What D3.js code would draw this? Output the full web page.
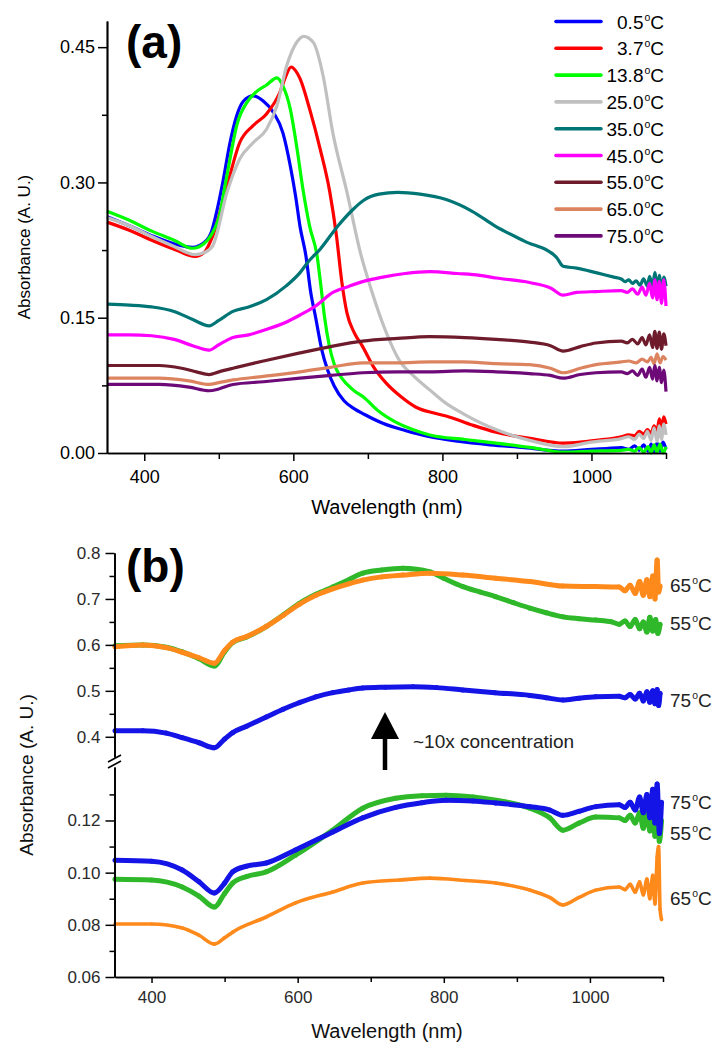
<!DOCTYPE html>
<html><head><meta charset="utf-8">
<script src="https://cdn.jsdelivr.net/npm/d3@7"></script>
<style>
body{margin:0;background:#fff}
svg{display:block}
text{font-family:"Liberation Sans",Arial,sans-serif}
</style>
</head><body>
<svg id="c" width="726" height="1050"></svg>
<script>
// ---------- Panel (a) data: [wavelength nm, absorbance] ----------
const a05 = [[350,0.262],[380,0.252],[410,0.241],[440,0.232],[465,0.228],[480,0.233],[490,0.245],[497,0.267],[506,0.303],[515,0.344],[524,0.374],[533,0.390],[546,0.396],[560,0.390],[573,0.378],[586,0.355],[596,0.318],[603,0.285],[609,0.251],[617,0.218],[623,0.180],[630,0.150],[638,0.115],[646,0.092],[655,0.074],[668,0.058],[682,0.049],[695,0.043],[720,0.033],[750,0.025],[783,0.018],[820,0.013],[864,0.009],[910,0.006],[962,0.002],[1000,0.004],[1020,0.005],[1040,0.006],[1050,0.004],[1058,0.008],[1064,0.003],[1070,0.009],[1076,0.002],[1080,0.010],[1084,0.001],[1088,0.011],[1092,0.002],[1096,0.012],[1100,0.004]];
const a37 = [[350,0.256],[380,0.247],[410,0.236],[440,0.226],[468,0.218],[480,0.222],[492,0.241],[511,0.296],[528,0.344],[546,0.363],[564,0.376],[582,0.400],[590,0.418],[597,0.428],[603,0.424],[609,0.415],[622,0.381],[636,0.337],[649,0.289],[658,0.240],[665,0.190],[672,0.155],[682,0.133],[693,0.118],[708,0.095],[724,0.078],[745,0.062],[764,0.051],[790,0.044],[809,0.040],[840,0.031],[872,0.023],[920,0.016],[962,0.011],[985,0.012],[1006,0.014],[1040,0.018],[1050,0.020],[1058,0.019],[1064,0.024],[1070,0.021],[1075,0.026],[1080,0.022],[1084,0.030],[1088,0.024],[1091,0.038],[1094,0.028],[1097,0.040],[1100,0.032]];
const a138 = [[350,0.268],[380,0.258],[410,0.246],[440,0.236],[465,0.227],[480,0.232],[490,0.242],[502,0.267],[508,0.295],[515,0.326],[524,0.363],[538,0.389],[551,0.401],[564,0.408],[578,0.416],[586,0.407],[596,0.381],[605,0.337],[613,0.292],[622,0.251],[632,0.218],[637,0.185],[642,0.150],[648,0.120],[655,0.098],[665,0.083],[680,0.070],[694,0.062],[715,0.046],[738,0.034],[760,0.026],[783,0.020],[830,0.015],[872,0.011],[920,0.006],[962,0.001],[1000,0.002],[1040,0.003],[1050,0.004],[1058,0.002],[1064,0.006],[1070,0.001],[1076,0.007],[1080,0.000],[1084,0.009],[1088,0.001],[1092,0.010],[1096,0.000],[1100,0.007]];
const a250 = [[350,0.261],[380,0.252],[410,0.240],[440,0.229],[468,0.220],[480,0.222],[492,0.230],[511,0.289],[528,0.326],[546,0.344],[564,0.359],[578,0.385],[591,0.429],[605,0.456],[614,0.462],[627,0.455],[640,0.418],[653,0.355],[672,0.289],[690,0.222],[705,0.180],[724,0.135],[742,0.103],[762,0.085],[783,0.070],[805,0.055],[827,0.044],[850,0.034],[872,0.026],[917,0.014],[962,0.007],[1000,0.012],[1040,0.016],[1050,0.018],[1058,0.015],[1064,0.021],[1070,0.016],[1075,0.024],[1080,0.014],[1084,0.028],[1088,0.013],[1091,0.030],[1094,0.015],[1097,0.032],[1100,0.020]];
const a350 = [[350,0.165],[380,0.164],[410,0.162],[440,0.157],[465,0.148],[487,0.141],[500,0.147],[519,0.157],[540,0.162],[564,0.170],[590,0.185],[609,0.200],[620,0.212],[636,0.226],[660,0.252],[680,0.270],[694,0.280],[715,0.287],[740,0.289],[770,0.287],[805,0.281],[840,0.268],[872,0.251],[910,0.235],[953,0.217],[962,0.207],[980,0.205],[1006,0.200],[1030,0.195],[1040,0.193],[1045,0.190],[1050,0.192],[1055,0.188],[1060,0.191],[1065,0.186],[1070,0.193],[1075,0.185],[1078,0.196],[1082,0.184],[1085,0.200],[1088,0.183],[1091,0.197],[1094,0.180],[1097,0.195],[1100,0.185]];
const a450 = [[350,0.131],[380,0.131],[410,0.130],[440,0.126],[465,0.119],[487,0.114],[500,0.120],[519,0.128],[540,0.131],[564,0.137],[590,0.145],[609,0.153],[630,0.163],[653,0.178],[675,0.185],[693,0.190],[720,0.195],[750,0.199],[783,0.201],[820,0.199],[850,0.197],[872,0.194],[917,0.189],[945,0.183],[962,0.175],[980,0.178],[1006,0.179],[1040,0.180],[1048,0.178],[1055,0.182],[1062,0.176],[1068,0.184],[1073,0.175],[1078,0.188],[1082,0.172],[1085,0.192],[1088,0.170],[1091,0.190],[1094,0.166],[1097,0.192],[1100,0.163]];
const a550 = [[350,0.097],[380,0.097],[420,0.097],[450,0.094],[470,0.090],[487,0.087],[500,0.090],[519,0.094],[560,0.102],[609,0.111],[650,0.118],[693,0.124],[740,0.127],[783,0.129],[830,0.128],[872,0.126],[917,0.123],[945,0.119],[962,0.113],[985,0.118],[1006,0.122],[1040,0.124],[1048,0.122],[1055,0.126],[1062,0.121],[1068,0.128],[1073,0.120],[1078,0.131],[1082,0.117],[1085,0.135],[1088,0.116],[1091,0.134],[1094,0.115],[1097,0.132],[1100,0.119]];
const a650 = [[350,0.083],[380,0.083],[420,0.083],[460,0.080],[487,0.076],[500,0.078],[519,0.081],[560,0.085],[609,0.090],[650,0.095],[693,0.100],[740,0.100],[783,0.101],[827,0.101],[872,0.099],[917,0.098],[945,0.094],[962,0.089],[985,0.094],[1006,0.098],[1040,0.101],[1050,0.102],[1060,0.100],[1068,0.104],[1075,0.101],[1080,0.106],[1084,0.099],[1088,0.110],[1092,0.100],[1096,0.107],[1100,0.103]];
const a750 = [[350,0.076],[380,0.076],[420,0.076],[460,0.073],[487,0.069],[500,0.071],[519,0.076],[560,0.079],[609,0.083],[650,0.086],[693,0.089],[740,0.090],[783,0.090],[830,0.091],[872,0.090],[917,0.088],[945,0.086],[962,0.083],[985,0.087],[1006,0.089],[1040,0.090],[1048,0.088],[1055,0.091],[1062,0.086],[1068,0.093],[1073,0.084],[1078,0.095],[1082,0.082],[1085,0.097],[1088,0.080],[1091,0.095],[1094,0.078],[1097,0.092],[1100,0.068]];
const tempsA = ["0.5","3.7","13.8","25.0","35.0","45.0","55.0","65.0","75.0"];
const colorsA = ["#0000ff","#ff0000","#00ff00","#c0c0c0","#007575","#ff00ff","#6e1c2c","#dc8460","#6e0a78"];
const seriesA = [a05,a37,a138,a250,a350,a450,a550,a650,a750];
const xTicksMajor = [400,600,800,1000];
const xTicksMinor = [500,700,900,1100];
const yTicksA = [0.00,0.15,0.30,0.45];
const yTicksAMinor = [0.075,0.225,0.375];

// ---------- Panel (b) data ----------
const b55U = [[350,0.598],[388,0.600],[420,0.595],[442,0.585],[465,0.570],[486,0.554],[500,0.585],[511,0.605],[530,0.617],[557,0.640],[580,0.665],[602,0.690],[625,0.710],[648,0.726],[670,0.742],[689,0.756],[715,0.763],[744,0.767],[781,0.759],[800,0.745],[826,0.727],[850,0.715],[871,0.705],[895,0.692],[918,0.680],[940,0.670],[963,0.661],[985,0.657],[1008,0.654],[1030,0.650],[1040,0.645],[1048,0.652],[1055,0.640],[1062,0.655],[1068,0.635],[1073,0.650],[1078,0.628],[1082,0.660],[1086,0.630],[1090,0.655],[1093,0.625],[1096,0.645]];
const b65U = [[350,0.596],[388,0.600],[420,0.594],[442,0.584],[465,0.572],[486,0.560],[500,0.588],[511,0.606],[530,0.618],[557,0.640],[580,0.664],[602,0.688],[625,0.708],[648,0.722],[670,0.733],[689,0.741],[715,0.748],[744,0.752],[781,0.756],[826,0.752],[871,0.745],[918,0.738],[963,0.728],[1008,0.727],[1040,0.726],[1048,0.718],[1055,0.730],[1062,0.712],[1068,0.738],[1073,0.708],[1078,0.742],[1082,0.705],[1086,0.750],[1089,0.700],[1092,0.785],[1094,0.715],[1096,0.728]];
const b75U = [[350,0.413],[388,0.413],[420,0.408],[442,0.398],[465,0.387],[486,0.376],[500,0.395],[511,0.409],[530,0.423],[557,0.443],[580,0.460],[602,0.474],[625,0.487],[648,0.496],[670,0.502],[689,0.506],[720,0.508],[758,0.509],[790,0.507],[826,0.502],[870,0.496],[918,0.490],[940,0.485],[963,0.480],[985,0.484],[1008,0.487],[1040,0.488],[1048,0.485],[1055,0.492],[1062,0.482],[1068,0.495],[1073,0.478],[1078,0.498],[1082,0.475],[1086,0.500],[1089,0.472],[1092,0.503],[1094,0.468],[1096,0.495]];
const b75L = [[350,0.1048],[400,0.1044],[442,0.1010],[465,0.0965],[486,0.0922],[500,0.0960],[511,0.1003],[530,0.1025],[557,0.1037],[597,0.1087],[648,0.1156],[689,0.1210],[734,0.1250],[770,0.1268],[803,0.1278],[840,0.1275],[871,0.1267],[918,0.1253],[945,0.1240],[963,0.1220],[985,0.1235],[1008,0.1253],[1040,0.1260],[1048,0.1250],[1055,0.1270],[1062,0.1240],[1068,0.1290],[1073,0.1230],[1078,0.1300],[1082,0.1210],[1086,0.1320],[1089,0.1190],[1092,0.1340],[1095,0.1150],[1098,0.1270]];
const b55L = [[350,0.0975],[400,0.0972],[442,0.0945],[465,0.0910],[486,0.0868],[500,0.0920],[511,0.0960],[530,0.0985],[557,0.1003],[597,0.1067],[648,0.1163],[689,0.1247],[734,0.1285],[770,0.1295],[803,0.1297],[840,0.1290],[871,0.1278],[918,0.1247],[945,0.1210],[963,0.1163],[985,0.1190],[1008,0.1213],[1040,0.1210],[1048,0.1200],[1055,0.1220],[1062,0.1190],[1068,0.1230],[1073,0.1170],[1078,0.1240],[1082,0.1160],[1086,0.1250],[1089,0.1140],[1092,0.1260],[1095,0.1120],[1098,0.1200]];
const b65L = [[350,0.0803],[400,0.0803],[442,0.0788],[465,0.0760],[486,0.0726],[500,0.0750],[511,0.0772],[557,0.0830],[597,0.0884],[648,0.0926],[689,0.0960],[740,0.0972],[781,0.0979],[830,0.0970],[871,0.0960],[918,0.0933],[945,0.0905],[963,0.0876],[985,0.0905],[1008,0.0933],[1040,0.0945],[1048,0.0935],[1055,0.0955],[1062,0.0925],[1068,0.0965],[1073,0.0915],[1078,0.0975],[1082,0.0900],[1086,0.0990],[1089,0.0880],[1092,0.1060],[1094,0.1100],[1096,0.0860],[1098,0.0820]];
const colorB = {g:"#2fb82a", o:"#ff8a1c", b:"#1414e6"};
const yTicksBU = [0.4,0.5,0.6,0.7,0.8];
const yTicksBUMinor = [0.45,0.55,0.65,0.75];
const yTicksBL = [0.06,0.08,0.10,0.12];
const yTicksBLMinor = [0.07,0.09,0.11,0.13];

const svg = d3.select("#c");

function styleAxis(g, fs, col){
  g.selectAll(".domain").attr("stroke","#000").attr("stroke-width",1.7);
  g.selectAll(".tick line").attr("stroke","#000").attr("stroke-width",1.5);
  g.selectAll("text").attr("font-size",fs).attr("fill",col).attr("font-family",'"Liberation Sans",Arial,sans-serif');
}
function degText(sel, num, x, y, anchor, fs, col){
  const t = sel.append("text").attr("x",x).attr("y",y).attr("text-anchor",anchor)
    .attr("font-size",fs).attr("fill",col);
  t.append("tspan").text(num);
  t.append("tspan").text("o").attr("font-size",fs*0.55).attr("dy",-fs*0.42).attr("dx",1);
  t.append("tspan").text("C").attr("dy",fs*0.42);
  return t;
}

// ================= Panel (a) =================
const xA = d3.scaleLinear().domain([350,1100]).range([107,666]);
const yA = d3.scaleLinear().domain([0,0.479]).range([453,21]);
const gA = svg.append("g");
const lineA = d3.line().x(d=>xA(d[0])).y(d=>yA(d[1])).curve(d3.curveMonotoneX);
seriesA.forEach((s,i)=>{
  gA.append("path").datum(s).attr("d",lineA).attr("fill","none")
    .attr("stroke",colorsA[i]).attr("stroke-width",3.2).attr("stroke-linejoin","round");
});
gA.append("g").attr("transform","translate(0,453)")
  .call(d3.axisBottom(xA).tickValues(xTicksMinor).tickSize(6).tickSizeOuter(0).tickFormat(""))
  .call(g=>styleAxis(g,18,"#000"));
gA.append("g").attr("transform","translate(0,453)")
  .call(d3.axisBottom(xA).tickValues(xTicksMajor).tickSize(8).tickSizeOuter(0).tickPadding(9).tickFormat(d3.format("d")))
  .call(g=>styleAxis(g,18,"#000"));
gA.append("g").attr("transform","translate(107,0)")
  .call(d3.axisLeft(yA).tickValues(yTicksAMinor).tickSize(5).tickSizeOuter(0).tickFormat(""))
  .call(g=>styleAxis(g,18,"#000"));
gA.append("g").attr("transform","translate(107,0)")
  .call(d3.axisLeft(yA).tickValues(yTicksA).tickSize(9).tickSizeOuter(0).tickPadding(3).tickFormat(d3.format(".2f")))
  .call(g=>styleAxis(g,18,"#000"));
gA.append("text").attr("x",387).attr("y",514).attr("text-anchor","middle").attr("font-size",20).text("Wavelength (nm)");
gA.append("text").attr("transform","translate(30,247) rotate(-90)").attr("text-anchor","middle").attr("font-size",17).text("Absorbance (A. U.)");
gA.append("text").attr("x",126).attr("y",58).attr("font-family","Lato, 'Open Sans', sans-serif").attr("font-weight","bold").attr("font-size",46).text("(a)");
tempsA.forEach((t,i)=>{
  const y = 21.5 + i*26.8;
  gA.append("line").attr("x1",556).attr("x2",601).attr("y1",y).attr("y2",y)
    .attr("stroke",colorsA[i]).attr("stroke-width",3.6).attr("stroke-linecap","round");
  degText(gA, t, 664, y+7, "end", 19, "#000");
});

// ================= Panel (b) =================
const xB = d3.scaleLinear().domain([350,1100]).range([115,663]);
const yBU = d3.scaleLinear().domain([0.356,0.8]).range([757,553]);
const yBL = d3.scaleLinear().domain([0.06,0.1405]).range([977,767]);
const gB = svg.append("g");
const lineBU = d3.line().x(d=>xB(d[0])).y(d=>yBU(d[1])).curve(d3.curveMonotoneX);
const lineBL = d3.line().x(d=>xB(d[0])).y(d=>yBL(d[1])).curve(d3.curveMonotoneX);
function drawB(s, c, w, yS, ln){
  gB.append("path").datum(s).attr("d",ln).attr("fill","none").attr("stroke",c).attr("stroke-width",w).attr("stroke-linejoin","round");
  gB.append("g").selectAll("circle").data(s).join("circle")
    .attr("cx",d=>xB(d[0])).attr("cy",d=>yS(d[1])).attr("r",w*0.5).attr("fill",c);
}
drawB(b55U,colorB.g,5,yBU,lineBU);
drawB(b65U,colorB.o,5,yBU,lineBU);
drawB(b75U,colorB.b,5,yBU,lineBU);
drawB(b65L,colorB.o,3.6,yBL,lineBL);
drawB(b55L,colorB.g,5,yBL,lineBL);
drawB(b75L,colorB.b,5,yBL,lineBL);
const tcB = "#2a2a2a";
gB.append("g").attr("transform","translate(0,977)")
  .call(d3.axisBottom(xB).tickValues(xTicksMinor).tickSize(5).tickSizeOuter(0).tickFormat(""))
  .call(g=>styleAxis(g,17,tcB));
gB.append("g").attr("transform","translate(0,977)")
  .call(d3.axisBottom(xB).tickValues(xTicksMajor).tickSize(6).tickSizeOuter(0).tickPadding(8).tickFormat(d3.format("d")))
  .call(g=>styleAxis(g,17,tcB));
gB.append("g").attr("transform","translate(114.5,0)")
  .call(d3.axisLeft(yBU).tickValues(yTicksBUMinor).tickSize(5).tickSizeOuter(0).tickFormat(""))
  .call(g=>styleAxis(g,17,tcB));
gB.append("g").attr("transform","translate(114.5,0)")
  .call(d3.axisLeft(yBU).tickValues(yTicksBU).tickSize(9).tickSizeOuter(0).tickPadding(5).tickFormat(d3.format(".1f")))
  .call(g=>styleAxis(g,17,tcB));
gB.append("g").attr("transform","translate(114.5,0)")
  .call(d3.axisLeft(yBL).tickValues(yTicksBLMinor).tickSize(5).tickSizeOuter(0).tickFormat(""))
  .call(g=>styleAxis(g,17,tcB));
gB.append("g").attr("transform","translate(114.5,0)")
  .call(d3.axisLeft(yBL).tickValues(yTicksBL).tickSize(9).tickSizeOuter(0).tickPadding(5).tickFormat(d3.format(".2f")))
  .call(g=>styleAxis(g,17,tcB));
[0,6].forEach(o=>{
  gB.append("line").attr("x1",108).attr("y1",762+o).attr("x2",121).attr("y2",755+o)
    .attr("stroke","#000").attr("stroke-width",1.6);
});
gB.append("text").attr("x",387).attr("y",1038).attr("text-anchor","middle").attr("font-size",20).attr("fill","#111").text("Wavelength (nm)");
gB.append("text").attr("transform","translate(33,775) rotate(-90)").attr("text-anchor","middle").attr("font-size",19).attr("fill","#111").text("Absorbance (A. U.)");
gB.append("text").attr("x",126).attr("y",582).attr("font-family","Lato, 'Open Sans', sans-serif").attr("font-weight","bold").attr("font-size",46).text("(b)");
[["65",592],["55",630],["75",707],["75",809],["55",840],["65",905]].forEach(([t,y])=>{
  degText(gB, t, 670, y, "start", 19, "#222");
});
gB.append("line").attr("x1",385).attr("x2",385).attr("y1",735).attr("y2",770).attr("stroke","#000").attr("stroke-width",4.5);
gB.append("path").attr("d",d3.line()([[371,739],[385,712],[399,739]])+"Z").attr("fill","#000");
gB.append("text").attr("x",413).attr("y",748).attr("font-size",19).attr("fill","#222").text("~10x concentration");
</script>
</body></html>
